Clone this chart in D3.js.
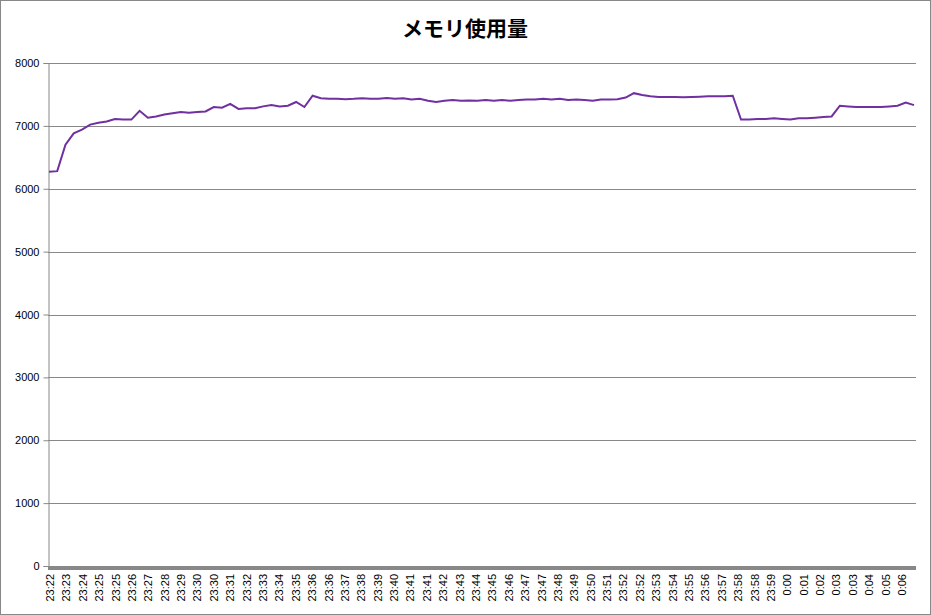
<!DOCTYPE html>
<html><head><meta charset="utf-8">
<script src="https://cdn.jsdelivr.net/npm/d3@7"></script>
<style>body{margin:0;background:#fff}</style>
</head><body>
<svg id="chart" width="931" height="615"></svg>
<script>
// x labels, one per 2 samples
var timeLabels = ['23:22','23:23','23:24','23:25','23:25','23:26','23:27','23:28','23:29','23:30','23:30','23:31','23:32','23:33','23:34','23:35','23:36','23:36','23:37','23:38','23:39','23:40','23:41','23:41','23:42','23:43','23:44','23:45','23:46','23:47','23:47','23:48','23:49','23:50','23:51','23:52','23:52','23:53','23:54','23:55','23:56','23:57','23:58','23:58','23:59','0:00','0:01','0:02','0:03','0:03','0:04','0:05','0:06']

// memory samples
var memory = [6270,6280,6700,6880,6940,7020,7050,7070,7110,7100,
  7100,7240,7130,7150,7180,7200,7220,7210,7220,7230,
  7300,7290,7350,7270,7280,7280,7310,7330,7310,7320,
  7380,7300,7480,7440,7430,7430,7425,7430,7440,7430,
  7430,7445,7430,7440,7420,7430,7400,7380,7400,7410,
  7400,7405,7400,7410,7400,7410,7400,7410,7420,7420,
  7430,7420,7430,7410,7420,7410,7400,7420,7420,7425,
  7450,7520,7490,7470,7460,7460,7460,7455,7460,7465,
  7470,7470,7470,7480,7100,7100,7110,7110,7120,7110,
  7100,7120,7120,7130,7140,7150,7320,7310,7300,7300,
  7300,7300,7310,7320,7370,7330]

var yTicks = [0,1000,2000,3000,4000,5000,6000,7000,8000]

var svg = d3.select('#chart')
var plotLeft = 48, plotRight = 916, plotTop = 63, plotBottom = 566

svg.append('rect').attr('x', 0.5).attr('y', 0.5).attr('width', 930).attr('height', 614)
  .attr('fill', '#fff').attr('stroke', '#888')

var x = d3.scaleLinear().domain([0, memory.length - 1]).range([49, 914])
var y = d3.scaleLinear().domain([0, 8000]).range([plotBottom, plotTop])

svg.append('text').attr('x', 465).attr('y', 36).attr('text-anchor', 'middle')
  .style('font', 'bold 21px "Noto Sans CJK JP", sans-serif').text('メモリ使用量')

// grid
svg.selectAll('.grid').data(yTicks.slice(1)).join('line')
  .attr('x1', plotLeft).attr('x2', plotRight)
  .attr('y1', d => Math.round(y(d)) + 0.5).attr('y2', d => Math.round(y(d)) + 0.5)
  .attr('stroke', '#888')

var yAxis = svg.append('g').attr('transform', 'translate(' + (plotLeft + 0.5) + ',0)')
  .call(d3.axisLeft(y).tickValues(yTicks).tickFormat(d3.format('d')).tickSize(5).tickPadding(4))
yAxis.selectAll('line,path').attr('stroke', '#888')
yAxis.selectAll('text').style('font', '11px "Liberation Sans", Arial, sans-serif').attr('fill', '#000')

// thick category axis
svg.append('rect').attr('x', plotLeft).attr('y', plotBottom).attr('width', plotRight - plotLeft).attr('height', 4).attr('fill', '#888')

var xl = d3.scaleLinear().domain([0, timeLabels.length - 1]).range([50, 902])
svg.selectAll('.xl').data(timeLabels).join('text')
  .attr('transform', (d, i) => 'translate(' + (xl(i) + 4) + ',574) rotate(-90)')
  .attr('text-anchor', 'end')
  .style('font', '11px "Liberation Sans", Arial, sans-serif')
  .text(d => d)

svg.append('path').datum(memory)
  .attr('d', d3.line().x((d, i) => x(i)).y(d => y(d)))
  .attr('fill', 'none').attr('stroke', '#7030a0').attr('stroke-width', 2)
</script>
</body></html>
